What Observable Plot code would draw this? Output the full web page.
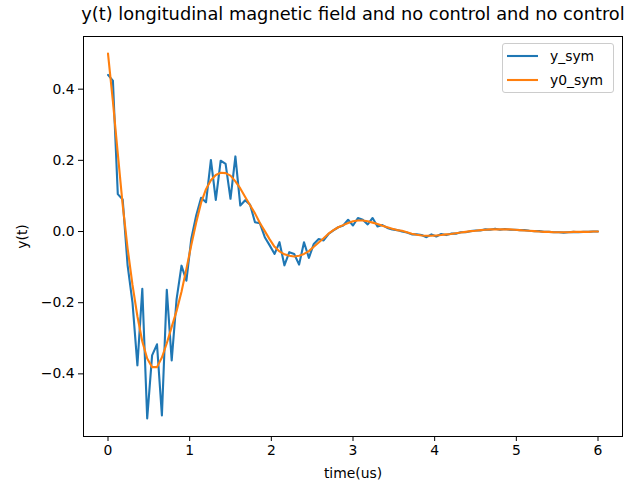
<!DOCTYPE html>
<html>
<head>
<meta charset="utf-8">
<script src="https://cdn.jsdelivr.net/npm/d3@7"></script>
<script src="https://cdn.jsdelivr.net/npm/@observablehq/plot@0.6"></script>
<style>
  html, body { margin: 0; padding: 0; background: #fff; }
  #wrap { position: relative; width: 640px; height: 485px; font-family: "DejaVu Sans", sans-serif; }
  #legend { position: absolute; left: 502px; top: 43px; width: 110px; height: 48px;
            border: 1px solid #cccccc; border-radius: 3px; background: rgba(255,255,255,0.8); }
</style>
</head>
<body>
<div id="wrap"></div>
<script>
const title = "y(t) longitudinal magnetic field and no control and no control";
const xLabel = "time(us)";
const yLabel = "y(t)";
const seriesNames = ["y_sym", "y0_sym"];
const seriesColors = ["#1f77b4", "#ff7f0e"];
const xTicks = [0, 1, 2, 3, 4, 5, 6];
const yTicks = [-0.4, -0.2, 0.0, 0.2, 0.4];

const time = [
  0.00,0.06,0.12,0.18,0.24,0.30,0.36,0.42,0.48,0.54,
  0.60,0.66,0.72,0.78,0.84,0.90,0.96,1.02,1.08,1.14,
  1.20,1.26,1.32,1.38,1.44,1.50,1.56,1.62,1.68,1.74,
  1.80,1.86,1.92,1.98,2.04,2.10,2.16,2.22,2.28,2.34,
  2.40,2.46,2.52,2.58,2.64,2.70,2.76,2.82,2.88,2.94,
  3.00,3.06,3.12,3.18,3.24,3.30,3.36,3.42,3.48,3.54,
  3.60,3.66,3.72,3.78,3.84,3.90,3.96,4.02,4.08,4.14,
  4.20,4.26,4.32,4.38,4.44,4.50,4.56,4.62,4.68,4.74,
  4.80,4.86,4.92,4.98,5.04,5.10,5.16,5.22,5.28,5.34,
  5.40,5.46,5.52,5.58,5.64,5.70,5.76,5.82,5.88,5.94,
  6.00
];

const ySym = [
  0.440,0.424,0.105,0.090,-0.095,-0.200,-0.376,-0.161,-0.525,-0.348,
  -0.317,-0.517,-0.164,-0.362,-0.190,-0.096,-0.138,-0.020,0.045,0.095,
  0.082,0.201,0.089,0.199,0.190,0.092,0.211,0.073,0.088,0.075,
  0.026,0.023,-0.016,-0.039,-0.063,-0.030,-0.095,-0.058,-0.063,-0.093,
  -0.030,-0.074,-0.035,-0.021,-0.025,-0.007,0.003,0.012,0.017,0.033,
  0.017,0.038,0.033,0.020,0.038,0.014,0.018,0.010,0.006,0.004,
  0.000,-0.003,-0.008,-0.008,-0.010,-0.016,-0.008,-0.014,-0.007,-0.010,
  -0.006,-0.006,-0.002,-0.002,0.001,0.003,0.003,0.006,0.005,0.008,
  0.005,0.007,0.005,0.005,0.004,0.004,0.002,0.001,0.001,-0.001,
  -0.001,-0.002,-0.002,-0.003,-0.002,-0.001,-0.002,-0.001,-0.001,0.000,
  0.000
];

const y0Sym = [
  0.500,0.366,0.219,0.074,-0.047,-0.150,-0.238,-0.309,-0.357,-0.381,
  -0.381,-0.354,-0.314,-0.268,-0.223,-0.169,-0.105,-0.038,0.025,0.081,
  0.119,0.144,0.159,0.165,0.164,0.157,0.141,0.121,0.097,0.074,
  0.051,0.024,0.001,-0.022,-0.043,-0.056,-0.064,-0.068,-0.070,-0.068,
  -0.063,-0.055,-0.043,-0.031,-0.019,-0.006,0.004,0.012,0.018,0.024,
  0.029,0.031,0.031,0.029,0.025,0.021,0.016,0.012,0.008,0.004,
  0.002,-0.002,-0.006,-0.009,-0.011,-0.012,-0.012,-0.011,-0.010,-0.008,
  -0.007,-0.005,-0.003,-0.001,0.001,0.002,0.004,0.005,0.006,0.006,
  0.006,0.006,0.006,0.005,0.004,0.003,0.002,0.001,0.000,-0.001,
  -0.001,-0.002,-0.002,-0.002,-0.002,-0.001,-0.001,-0.001,-0.001,0.000,
  0.000
];

const rows = [];
time.forEach((t, i) => {
  rows.push({t, v: ySym[i], s: seriesNames[0]});
});
time.forEach((t, i) => {
  rows.push({t, v: y0Sym[i], s: seriesNames[1]});
});

const chart = Plot.plot({
  width: 640,
  height: 485,
  marginLeft: 83,
  marginRight: 18,
  marginTop: 36,
  marginBottom: 49,
  style: {fontFamily: "DejaVu Sans, sans-serif", fontSize: "13.9px", color: "#000", background: "#fff"},
  x: {domain: [-0.3, 6.3]},
  y: {domain: [-0.576, 0.548]},
  color: {domain: seriesNames, range: seriesColors},
  marks: [
    Plot.line(rows, {x: "t", y: "v", stroke: "s", z: "s", strokeWidth: 2.1}),
    Plot.frame({stroke: "#000", strokeWidth: 1}),
    Plot.axisX({ticks: xTicks, tickSize: 5, tickPadding: 4, label: null, tickFormat: d3.format("d"), fontSize: 13.9}),
    Plot.axisY({ticks: yTicks, tickSize: 5, tickPadding: 4, label: null, tickFormat: d3.format(".1f"), fontSize: 13.9}),
    Plot.text([xLabel], {frameAnchor: "bottom", lineAnchor: "middle", dy: 37, text: d => d, fontSize: 13.9}),
    Plot.text([yLabel], {frameAnchor: "left", textAnchor: "middle", lineAnchor: "middle", dx: -61, rotate: -90, text: d => d, fontSize: 13.9}),
    Plot.text([title], {frameAnchor: "top", lineAnchor: "middle", dy: -22, text: d => d, fontSize: 17.8})
  ]
});
document.getElementById("wrap").appendChild(chart);

// legend
const leg = document.createElement("div");
leg.id = "legend";
const ns = "http://www.w3.org/2000/svg";
const lsvg = document.createElementNS(ns, "svg");
lsvg.setAttribute("width", 110);
lsvg.setAttribute("height", 48);
seriesNames.forEach((name, i) => {
  const y = 12 + i * 24;
  const ln = document.createElementNS(ns, "line");
  ln.setAttribute("x1", 4); ln.setAttribute("x2", 35);
  ln.setAttribute("y1", y); ln.setAttribute("y2", y);
  ln.setAttribute("stroke", seriesColors[i]); ln.setAttribute("stroke-width", 2.1);
  lsvg.appendChild(ln);
  const tx = document.createElementNS(ns, "text");
  tx.setAttribute("x", 47); tx.setAttribute("y", y);
  tx.setAttribute("dy", "0.35em");
  tx.setAttribute("font-family", "DejaVu Sans, sans-serif");
  tx.setAttribute("font-size", "13.9px");
  tx.textContent = name;
  lsvg.appendChild(tx);
});
leg.appendChild(lsvg);
document.getElementById("wrap").appendChild(leg);
</script>
</body>
</html>
